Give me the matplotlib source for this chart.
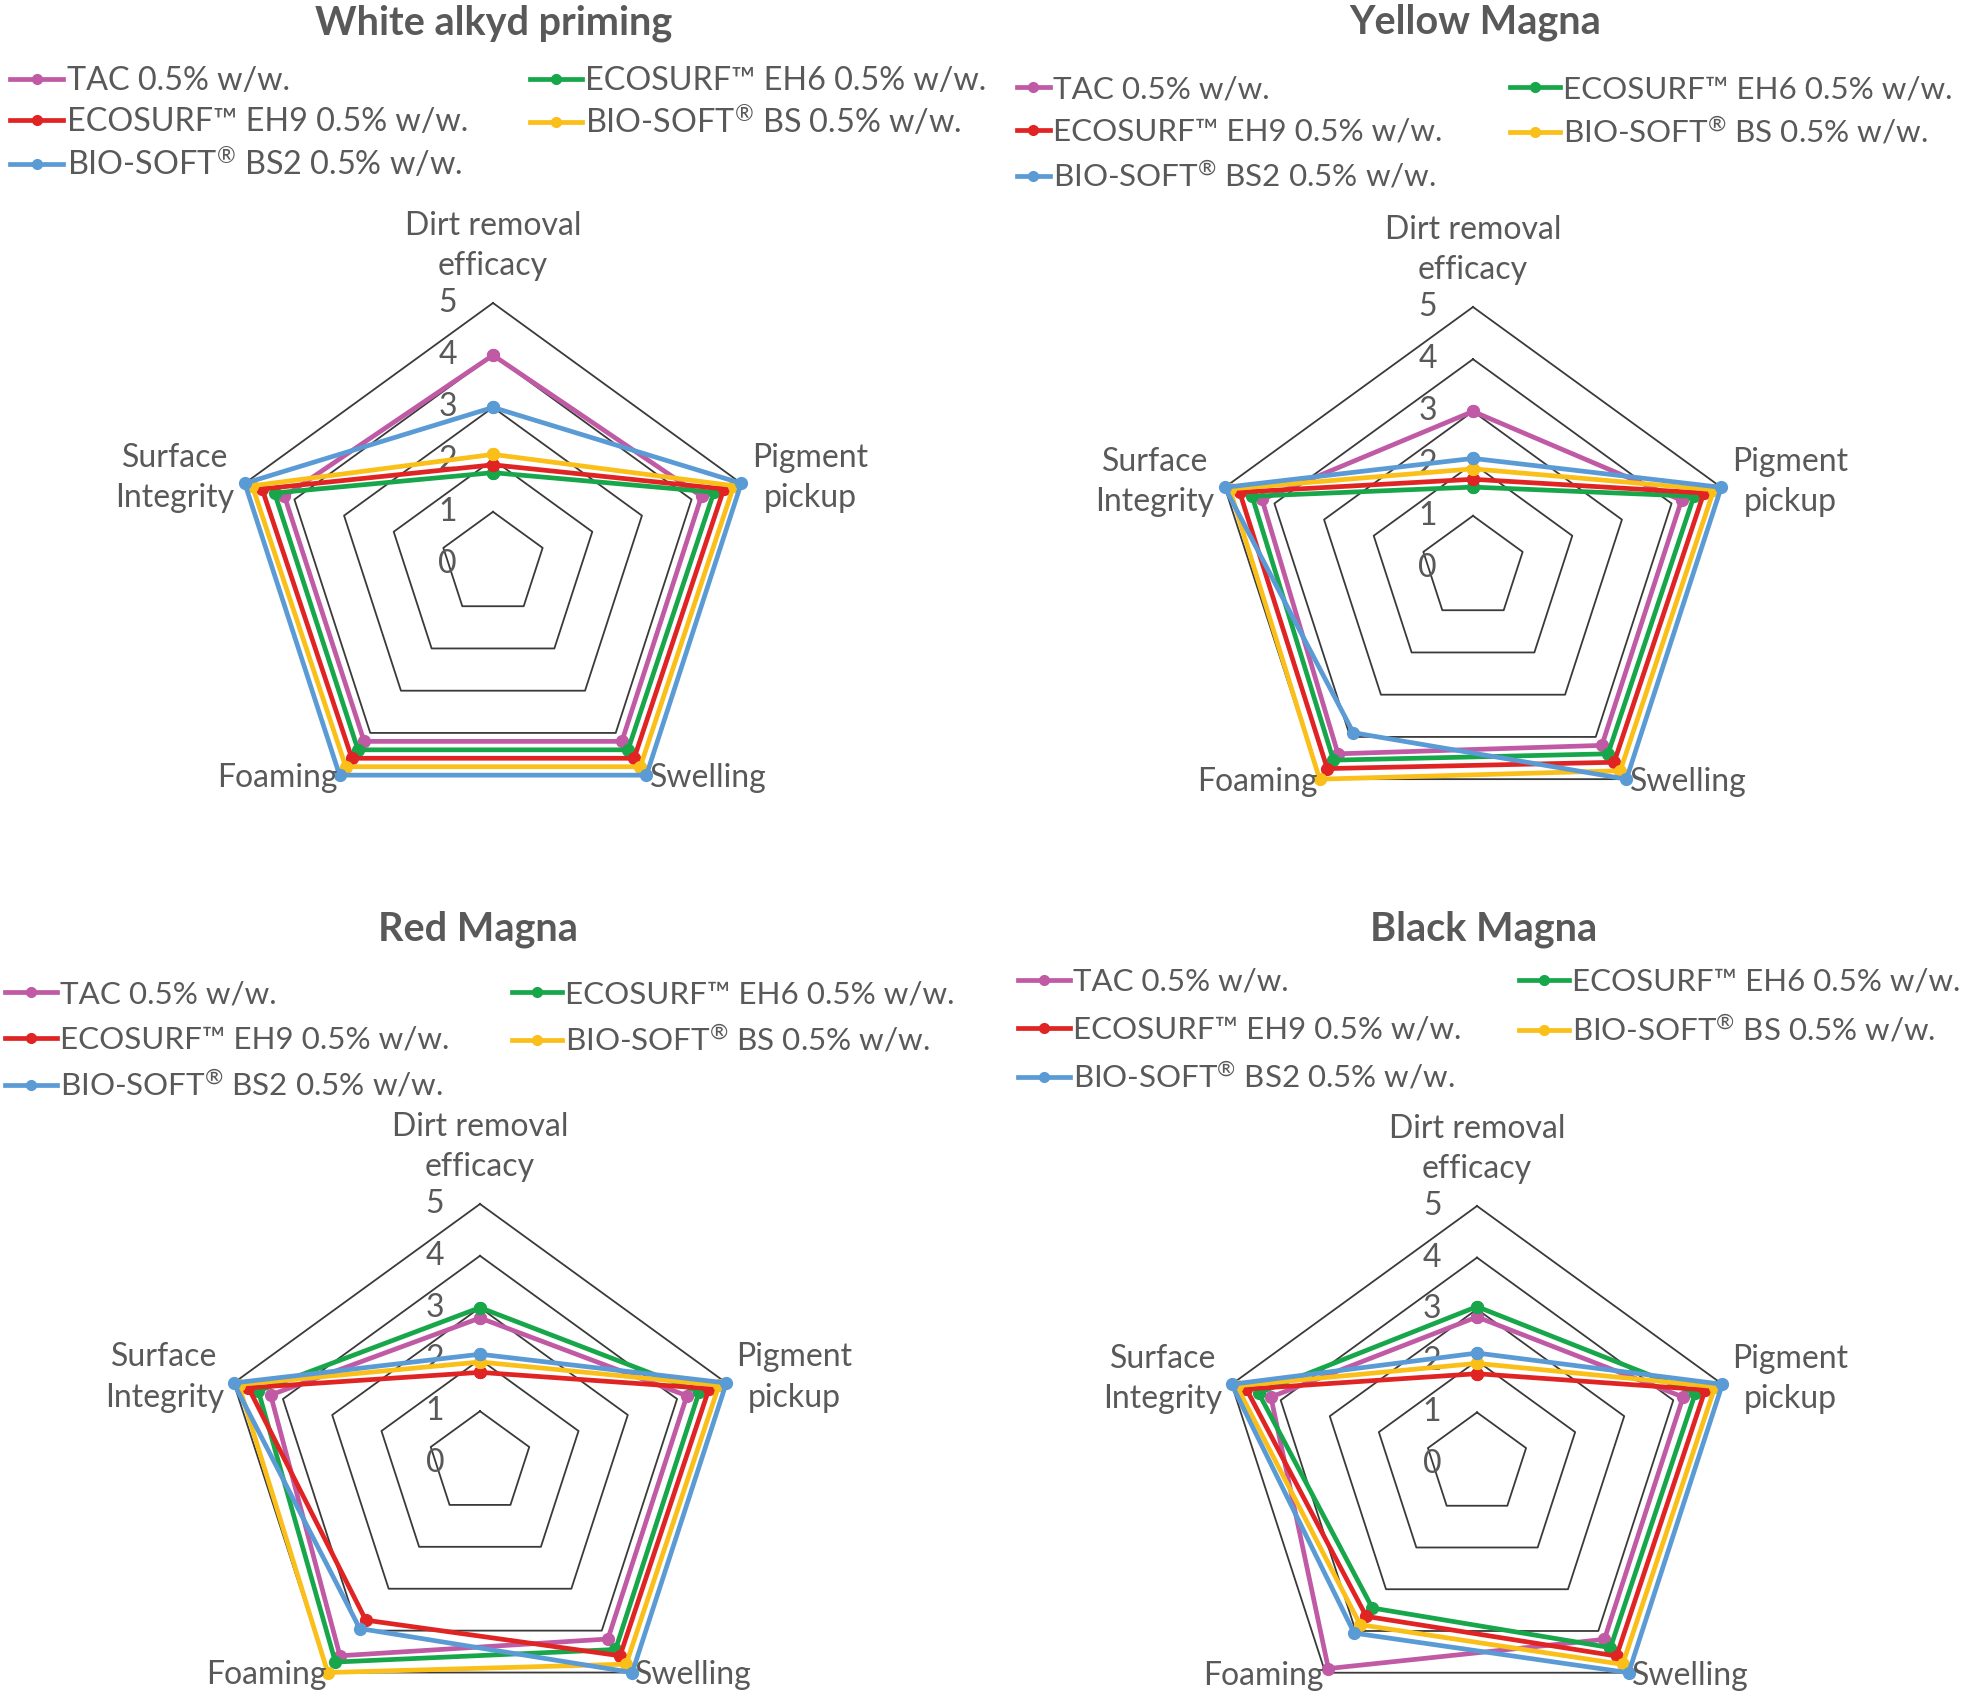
import matplotlib
matplotlib.use("Agg")
import matplotlib.pyplot as plt
import numpy as np
from matplotlib.lines import Line2D

W, H, DPI = 1961, 1696, 100
plt.rcParams['font.family'] = ['Lato', 'DejaVu Sans']
plt.rcParams['mathtext.fontset'] = 'custom'
plt.rcParams['mathtext.rm'] = 'Lato'
plt.rcParams['mathtext.it'] = 'Lato:italic'
plt.rcParams['mathtext.bf'] = 'Lato:bold'

# ---------------- data ----------------
axis_labels = ["Dirt removal\nefficacy", "Pigment\npickup", "Swelling", "Foaming", "Surface\nIntegrity"]
series_names = ["TAC 0.5% w/w.", "ECOSURF™ EH6 0.5% w/w.", "ECOSURF™ EH9 0.5% w/w.",
                "BIO-SOFT$^{®}$ BS 0.5% w/w.", "BIO-SOFT$^{®}$ BS2 0.5% w/w."]
series_colors = ["#C05AA5", "#17A74A", "#E02424", "#FBBF1A", "#5B9BD5"]
tick_values = [0, 1, 2, 3, 4, 5]
titles = ["White alkyd priming", "Yellow Magna", "Red Magna", "Black Magna"]

# rows: TAC, EH6, EH9, BS, BS2 ; columns follow axis_labels
white_alkyd = [[4.0, 4.2, 4.2, 4.2, 4.2],
               [1.75, 4.45, 4.4, 4.4, 4.4],
               [1.9, 4.65, 4.6, 4.6, 4.65],
               [2.1, 4.85, 4.8, 4.8, 4.85],
               [3.0, 5.0, 5.0, 5.0, 5.0]]
yellow_magna = [[3.0, 4.2, 4.2, 4.4, 4.25],
                [1.55, 4.45, 4.4, 4.55, 4.45],
                [1.7, 4.65, 4.6, 4.75, 4.7],
                [1.9, 4.85, 4.8, 5.0, 4.9],
                [2.1, 5.0, 5.0, 3.9, 5.0]]
red_magna = [[2.8, 4.2, 4.2, 4.6, 4.25],
             [3.0, 4.45, 4.45, 4.75, 4.5],
             [1.75, 4.65, 4.6, 3.75, 4.7],
             [1.95, 4.85, 4.8, 5.0, 4.9],
             [2.1, 5.0, 5.0, 3.95, 5.0]]
black_magna = [[2.85, 4.2, 4.2, 4.9, 4.2],
               [3.05, 4.45, 4.4, 3.45, 4.45],
               [1.75, 4.65, 4.6, 3.65, 4.7],
               [1.95, 4.85, 4.8, 3.85, 4.9],
               [2.15, 5.0, 5.0, 4.05, 5.0]]
datasets = [white_alkyd, yellow_magna, red_magna, black_magna]

# ---------------- layout (pixels) ----------------
centers = [(493, 564), (1473, 568), (480, 1463), (1477, 1464)]
radii = [261, 261, 259, 258]
title_pos = [(494, 23), (1475, 22), (478, 929), (1484, 929)]
# legend: x of column 1, x of column 2, row y's, col1 handle length, font size
legend_x = [(10, 530), (1017, 1510), (5, 512), (1018, 1519)]
legend_rows = [(81, 122, 164), (89, 132, 176), (994, 1040, 1085), (982, 1030, 1077)]
legend_hl1 = [1.65, 1.05, 1.65, 1.65]
legend_fs = [23.3, 22.6, 22.6, 22.5]
# entry placement (series index, column, row) -> row-major like the original
legend_slots = [(0, 0, 0), (1, 1, 0), (2, 0, 1), (3, 1, 1), (4, 0, 2)]

TXT = "#595959"
GRID = "#3a3a3a"
FS_AX = 23
TITLE_FS = 28.5

fig = plt.figure(figsize=(W / DPI, H / DPI), dpi=DPI)

angles = np.deg2rad(90 - 72 * np.arange(5))
S = 420

for k in range(4):
    cx, cy = centers[k]
    R = radii[k]
    u = R / 5.0
    ax = fig.add_axes([(cx - S) / W, 1 - (cy + S) / H, 2 * S / W, 2 * S / H])
    lim = S / u
    ax.set_xlim(-lim, lim)
    ax.set_ylim(-lim, lim)
    ax.axis('off')
    ax.patch.set_alpha(0)

    # grid pentagons
    for t in tick_values[1:]:
        xs = np.r_[t * np.cos(angles), t * np.cos(angles[0])]
        ys = np.r_[t * np.sin(angles), t * np.sin(angles[0])]
        ax.plot(xs, ys, color=GRID, lw=1.3, zorder=1)

    # series
    for vals, col in zip(datasets[k], series_colors):
        v = np.array(vals)
        xs = np.r_[v * np.cos(angles), v[0] * np.cos(angles[0])]
        ys = np.r_[v * np.sin(angles), v[0] * np.sin(angles[0])]
        ax.plot(xs, ys, color=col, lw=3.4, marker='o', ms=8.5, zorder=3,
                solid_joinstyle='round', clip_on=False)

    # tick labels
    for t in tick_values:
        ax.text(-0.87, t, str(t), ha='center', va='center', fontsize=FS_AX, color=TXT, zorder=2)

    # axis labels
    ax.text(0, 6.1, axis_labels[0], ha='center', va='center', fontsize=FS_AX, color=TXT, linespacing=1.42)
    ax.text(6.07, 1.65, axis_labels[1], ha='center', va='center', fontsize=FS_AX, color=TXT, linespacing=1.42)
    ax.text(3.0, -4.1, axis_labels[2], ha='left', va='center', fontsize=FS_AX, color=TXT)
    ax.text(-2.97, -4.1, axis_labels[3], ha='right', va='center', fontsize=FS_AX, color=TXT)
    ax.text(-6.09, 1.65, axis_labels[4], ha='center', va='center', fontsize=FS_AX, color=TXT, linespacing=1.42)

    # title
    tx, ty = title_pos[k]
    fig.text(tx / W, 1 - ty / H, titles[k], ha='center', va='center', fontsize=TITLE_FS,
             fontweight='bold', color=TXT)

    # legend entries
    for i, c, r in legend_slots:
        h = Line2D([0], [0], color=series_colors[i], lw=3.4, marker='o', ms=7)
        x = legend_x[k][c]
        y = legend_rows[k][r]
        hl = legend_hl1[k] if c == 0 else 1.6
        fig.legend([h], [series_names[i]], loc='center left',
                   bbox_to_anchor=(x / W, 1 - y / H), frameon=False, borderpad=0,
                   borderaxespad=0, handlelength=hl, handletextpad=0.1,
                   fontsize=legend_fs[k], labelcolor=TXT)

fig.savefig("out.png", dpi=DPI)
